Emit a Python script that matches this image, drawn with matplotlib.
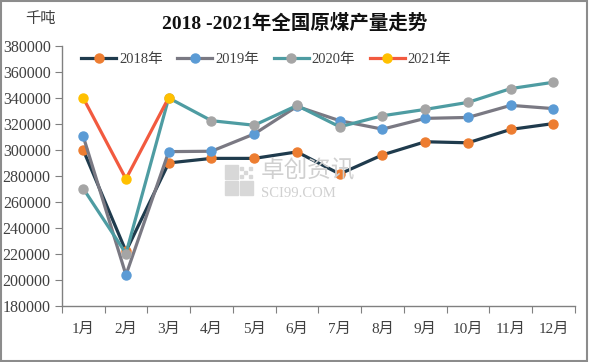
import matplotlib
matplotlib.use("Agg")
import matplotlib.pyplot as plt
from matplotlib.patches import Rectangle

plt.rcParams['font.family'] = ['Liberation Serif', 'Noto Sans CJK SC', 'DejaVu Sans']

months = ['1月', '2月', '3月', '4月', '5月', '6月', '7月', '8月', '9月', '10月', '11月', '12月']
y2018 = [300000, 222000, 290000, 293500, 293500, 298500, 281500, 296200, 306300, 305500, 315800, 320300]
y2019 = [310500, 203800, 298700, 299000, 312300, 333500, 322500, 316000, 324300, 325000, 334300, 331800]
y2020 = [270300, 220300, 340000, 322500, 319000, 334200, 317800, 326300, 331200, 336600, 347200, 352100]
y2021 = [340000, 277700, 340300]
yticks = list(range(180000, 380001, 20000))

series = [
    ('2018年', y2018, '#1F3B4D', '#ED7D31'),
    ('2019年', y2019, '#7A7983', '#5B9BD5'),
    ('2020年', y2020, '#4E9CA2', '#A5A5A5'),
    ('2021年', y2021, '#F25A3F', '#FFC000'),
]

fig = plt.figure(figsize=(5.89, 3.62), dpi=100)
ax = fig.add_axes([0.105, 0.155, 0.871, 0.718])

# watermark (behind the lines)
wm = '#D0D0D0'
fig.text(0.443, 0.528, '卓创资讯', ha='left', va='center', fontsize=17,
         color=wm, family=['Noto Sans CJK SC'], zorder=0)
fig.text(0.443, 0.465, 'SCI99.COM', ha='left', va='center', fontsize=10.5,
         color=wm, zorder=0)
cell_w, cell_h = 0.022, 0.039
x0, y0 = 0.382, 0.462
for dx, dy in [(0, 0), (cell_w + 0.003, 0), (0, cell_h + 0.005)]:
    fig.patches.append(Rectangle((x0 + dx, y0 + dy), cell_w, cell_h,
                                 transform=fig.transFigure, color='#D8D8D8', zorder=0))
for i in range(3):
    for j in range(3):
        if (i + j) % 2 == 0:
            fig.patches.append(Rectangle((x0 + cell_w + 0.004 + i * 0.007,
                                          y0 + cell_h + 0.006 + j * 0.012),
                                         0.005, 0.009, transform=fig.transFigure,
                                         color='#D8D8D8', zorder=0))
ax.set_facecolor('none')

for name, vals, lc, mc in series:
    ax.plot(range(len(vals)), vals, color=lc, linewidth=2.3, marker='o',
            markersize=6.5, markerfacecolor=mc, markeredgecolor=mc, label=name)

ax.set_xlim(-0.5, 11.5)
ax.set_ylim(180000, 380000)
ax.set_yticks(yticks)
ax.set_yticklabels([str(v) for v in yticks], fontsize=11.5, color='#404040')

# tick marks at category boundaries, labels at centers
ax.set_xticks([i - 0.5 for i in range(13)])
ax.set_xticklabels([])
ax.set_xticks(range(12), minor=True)
ax.set_xticklabels(months, minor=True, fontsize=11, color='#404040')
ax.tick_params(axis='x', which='major', direction='out', length=5, color='#808080')
ax.tick_params(axis='x', which='minor', length=0, pad=12)
ax.tick_params(axis='y', direction='out', length=5, color='#808080', pad=3)

for s in ['top', 'right']:
    ax.spines[s].set_visible(False)
for s in ['left', 'bottom']:
    ax.spines[s].set_color('#808080')
    ax.spines[s].set_linewidth(1.0)

fig.text(0.5, 0.935, '2018 -2021年全国原煤产量走势', ha='center', va='center',
         fontsize=14, fontweight='bold', color='#111111')
fig.text(0.068, 0.948, '千吨', ha='center', va='center', fontsize=11, color='#404040')

leg = fig.legend(loc='center', bbox_to_anchor=(0.452, 0.837), ncol=4, frameon=False,
                 fontsize=10.5, handlelength=2.4, columnspacing=1.0, handletextpad=0.2)
for t in leg.get_texts():
    t.set_color('#404040')

fig.patches.append(Rectangle((0.002, 0.003), 0.995, 0.994, transform=fig.transFigure,
                             fill=False, edgecolor='#8C8C8C', linewidth=1.5))

fig.savefig('out.png', dpi=100)
